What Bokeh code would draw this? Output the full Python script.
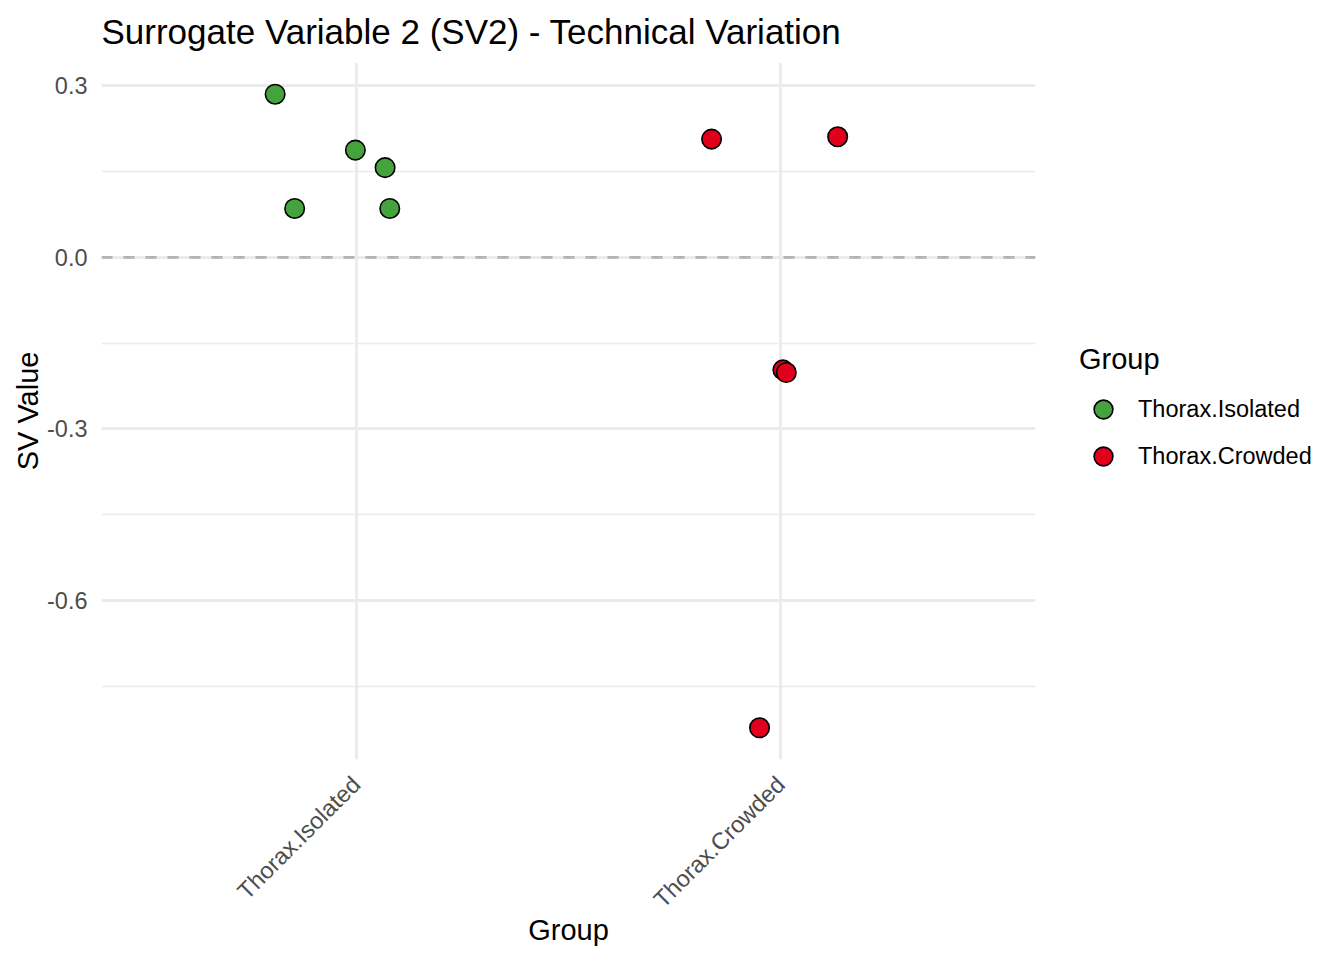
import math
from bokeh.plotting import figure
from bokeh.models import Range1d, FixedTicker, Legend, LegendItem, Span, ColumnDataSource
from bokeh.embed import file_html
from bokeh.resources import INLINE

# ---- data ----
groups = ["Thorax.Isolated", "Thorax.Crowded"]
group_pos = [1, 2]
isolated_sv = [0.2855, 0.1877, 0.1570, 0.0856, 0.0856]
isolated_jitter = [-0.191, -0.002, 0.068, -0.145, 0.079]
crowded_sv = [0.2069, 0.2110, -0.1968, -0.2015, -0.8230]
crowded_jitter = [-0.163, 0.134, 0.005, 0.013, -0.050]
group_colors = ["#44A33C", "#E0001B"]
y_ticks = [0.3, 0.0, -0.3, -0.6]
y_tick_labels = ["0.3", "0.0", "-0.3", "-0.6"]
y_minor_ticks = [0.15, -0.15, -0.45, -0.75]

FONT = "Liberation Sans"

all_vals = isolated_sv + crowded_sv
lo, hi = min(all_vals), max(all_vals)
pad = (hi - lo) * 0.05

p = figure(
    frame_width=934, frame_height=697,
    min_border_left=101, min_border_top=62, min_border_right=300, min_border_bottom=190,
    x_range=Range1d(0.4, 2.6), y_range=Range1d(lo - pad, hi + pad),
    output_backend="svg", toolbar_location=None,
    title="Surrogate Variable 2 (SV2) - Technical Variation",
    x_axis_label="Group", y_axis_label="SV Value",
)
p.outline_line_color = None
p.background_fill_color = "white"
p.border_fill_color = "white"

p.title.text_font = FONT
p.title.text_font_size = "35px"
p.title.text_font_style = "normal"
p.title.text_color = "black"
p.title.align = "left"
p.title.vertical_align = "top"
p.title.standoff = 20

# axes
for ax in (p.xaxis[0], p.yaxis[0]):
    ax.axis_line_color = None
    ax.major_tick_line_color = None
    ax.minor_tick_line_color = None
    ax.major_tick_out = 0
    ax.major_tick_in = 0
    ax.minor_tick_out = 0
    ax.minor_tick_in = 0
    ax.major_label_text_font = FONT
    ax.major_label_text_font_size = "23.5px"
    ax.major_label_text_color = "#4D4D4D"
    ax.axis_label_text_font = FONT
    ax.axis_label_text_font_size = "29px"
    ax.axis_label_text_font_style = "normal"
    ax.axis_label_text_color = "black"

p.yaxis.ticker = FixedTicker(ticks=y_ticks, minor_ticks=y_minor_ticks)
p.yaxis.major_label_overrides = {t: l for t, l in zip(y_ticks, y_tick_labels)}
p.yaxis.major_label_standoff = 14
p.yaxis.axis_label_standoff = 0

p.xaxis.ticker = FixedTicker(ticks=group_pos)
p.xaxis.major_label_overrides = {t: g for t, g in zip(group_pos, groups)}
p.xaxis.major_label_orientation = math.pi / 4
p.xaxis.major_label_standoff = 21
p.xaxis.axis_label_standoff = -11

# grid
p.xgrid.grid_line_color = "#EBEBEB"
p.xgrid.grid_line_width = 2.8
p.ygrid.grid_line_color = "#EBEBEB"
p.ygrid.grid_line_width = 2.8
p.ygrid.minor_grid_line_color = "#EBEBEB"
p.ygrid.minor_grid_line_width = 1.4

# zero line
p.add_layout(Span(location=0, dimension="width", line_color="#B3B3B3",
                  line_width=2.8, line_dash="11 11"))

# points
series = [
    (isolated_sv, isolated_jitter, group_pos[0], group_colors[0], groups[0]),
    (crowded_sv, crowded_jitter, group_pos[1], group_colors[1], groups[1]),
]
items = []
for vals, jit, pos, col, name in series:
    src = ColumnDataSource(dict(x=[pos + j for j in jit], y=vals))
    r = p.scatter("x", "y", source=src, size=19.5, fill_color=col,
                  line_color="black", line_width=1.6)
    items.append(LegendItem(label=name, renderers=[r]))

legend = Legend(items=items, title="Group", location="center_left")
legend.title_text_font = FONT
legend.title_text_font_size = "29px"
legend.title_text_font_style = "normal"
legend.title_text_color = "black"
legend.title_standoff = 10
legend.label_text_font = FONT
legend.label_text_font_size = "23.5px"
legend.label_text_color = "black"
legend.glyph_width = 48
legend.glyph_height = 47
legend.label_standoff = 11
legend.spacing = 0
legend.padding = 10
legend.margin = 44
legend.border_line_color = None
legend.background_fill_alpha = 0
p.add_layout(legend, "right")

open("out.html", "w").write(file_html(p, INLINE))
